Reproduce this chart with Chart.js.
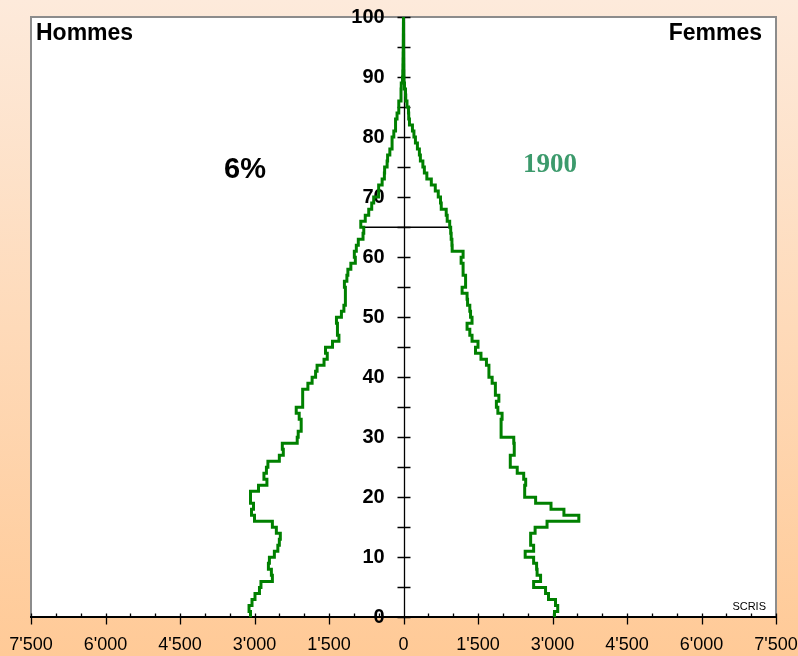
<!DOCTYPE html>
<html lang="fr">
<head>
<meta charset="utf-8">
<title>Pyramide des âges 1900</title>
<script src="https://cdn.jsdelivr.net/npm/chart.js@4.4.1/dist/chart.umd.min.js"></script>
<style>
  html, body { margin: 0; padding: 0; }
  body { width: 798px; height: 656px; background: linear-gradient(to bottom, #fdeadb, #ffca97); overflow: hidden; }
  #wrap { position: relative; width: 798px; height: 656px; }
</style>
</head>
<body>
<div id="wrap"><canvas id="pyramid"></canvas></div>
<script>
// ages 0 to 99, one value per year of age
const ages = Array.from({ length: 100 }, (_, i) => i);

// hommes (drawn on the left)
const hommes = [
    3080, 3110, 3050, 2990, 2900, 2870, 2640, 2660, 2720, 2700,
    2600, 2530, 2500, 2480, 2560, 2640, 3000, 3060, 3020, 3080,
    3080, 2920, 2750, 2810, 2760, 2730, 2500, 2420, 2440, 2140,
    2120, 2060, 2060, 2100, 2160, 2030, 2030, 2030, 1925, 1840,
    1770, 1740, 1600, 1535, 1570, 1430, 1300, 1330, 1330, 1350,
    1250, 1200, 1170, 1170, 1170, 1190, 1140, 1120, 1060, 970,
    990, 950, 910, 815, 800, 860, 770, 700, 640, 600,
    500, 500, 430, 385, 380, 330, 320, 275, 230, 230,
    195, 160, 160, 130, 95, 95, 50, 50, 45, 20,
    15, 12, 10, 8, 6, 5, 4, 3, 2, 1,
];

// femmes (drawn on the right)
const femmes = [
    3040, 3105, 3060, 2920, 2860, 2620, 2760, 2690, 2680, 2620,
    2450, 2620, 2560, 2560, 2650, 2890, 3530, 3230, 2970, 2660,
    2440, 2440, 2460, 2420, 2290, 2150, 2150, 2230, 2230, 2220,
    1965, 1965, 1965, 1985, 1900, 1870, 1920, 1850, 1850, 1785,
    1720, 1720, 1670, 1560, 1450, 1500, 1380, 1335, 1280, 1380,
    1350, 1335, 1290, 1280, 1180, 1250, 1250, 1200, 1200, 1160,
    1200, 980, 975, 960, 950, 930, 880, 860, 760, 745,
    700, 640, 560, 470, 420, 390, 340, 320, 280, 240,
    210, 180, 120, 105, 100, 70, 45, 40, 20, 10,
    8, 6, 5, 4, 3, 2, 2, 1, 1, 0,
];

const retraite = 65;
const xTicks = [-7500, -6000, -4500, -3000, -1500, 0, 1500, 3000, 4500, 6000, 7500];
const yTicks = [0, 10, 20, 30, 40, 50, 60, 70, 80, 90, 100];

function fmt(v) {
    const n = Math.abs(v);
    if (n < 1000) return String(n);
    return Math.floor(n / 1000) + "'" + String(n % 1000).padStart(3, "0");
}

function steps(values, sign) {
    const pts = ages.map((a, i) => ({ x: sign * values[i], y: a }));
    pts.push({ x: sign * values[values.length - 1], y: ages.length });
    return pts;
}

// white plot area, grey frame, age axis line, tick marks and texts
const decor = {
    id: "decor",
    beforeDraw(chart) {
        const { ctx, chartArea: a } = chart;
        ctx.save();
        ctx.fillStyle = "#ffffff";
        ctx.fillRect(a.left, a.top, a.right - a.left, a.bottom - a.top);
        ctx.strokeStyle = "#8c8c8c";
        ctx.lineWidth = 2;
        ctx.beginPath();
        ctx.moveTo(a.left, a.bottom);
        ctx.lineTo(a.left, a.top);
        ctx.lineTo(a.right, a.top);
        ctx.lineTo(a.right, a.bottom);
        ctx.stroke();
        ctx.restore();
    },
    beforeDatasetsDraw(chart) {
        const { ctx, chartArea: a, scales } = chart;
        const x = scales.x, y = scales.y;
        const x0 = Math.round(x.getPixelForValue(0)) + 0.5;
        ctx.save();
        ctx.strokeStyle = "#000";
        ctx.lineWidth = 1.3;
        ctx.beginPath();
        ctx.moveTo(x0, a.top);
        ctx.lineTo(x0, a.bottom);
        for (let v = -7500; v <= 7500; v += 500) {
            const px = Math.round(x.getPixelForValue(v)) + 0.5;
            const major = v % 1500 === 0;
            ctx.moveTo(px, a.bottom - 4);
            ctx.lineTo(px, a.bottom + (major ? 7 : 0));
        }
        for (let v = 0; v <= 100; v += 5) {
            const py = Math.round(y.getPixelForValue(v)) + 0.5;
            ctx.moveTo(x0 - 7, py);
            ctx.lineTo(x0 + 6, py);
        }
        ctx.stroke();
        ctx.restore();
    },
    afterDraw(chart) {
        const { ctx } = chart;
        ctx.save();
        ctx.fillStyle = "#000";
        ctx.font = "bold 23px 'Liberation Sans', Arial, sans-serif";
        ctx.textBaseline = "alphabetic";
        ctx.textAlign = "left";
        ctx.fillText("Hommes", 36, 40);
        ctx.textAlign = "right";
        ctx.fillText("Femmes", 762, 40);
        ctx.textAlign = "left";
        ctx.font = "bold 29px 'Liberation Sans', Arial, sans-serif";
        ctx.fillText("6%", 224, 178);
        ctx.fillStyle = "#3c9a6c";
        ctx.font = "bold 27px 'Liberation Serif', 'Times New Roman', serif";
        ctx.fillText("1900", 523, 172);
        ctx.fillStyle = "#000";
        ctx.font = "11px 'Liberation Sans', Arial, sans-serif";
        ctx.textAlign = "right";
        ctx.fillText("SCRIS", 766, 610);
        ctx.restore();
    },
};

new Chart(document.getElementById("pyramid"), {
    type: "scatter",
    data: {
        datasets: [
            {
                label: "Hommes",
                data: steps(hommes, -1),
                showLine: true,
                stepped: "after",
                borderColor: "#008000",
                borderWidth: 3,
                pointRadius: 0,
            },
            {
                label: "Femmes",
                data: steps(femmes, 1),
                showLine: true,
                stepped: "after",
                borderColor: "#008000",
                borderWidth: 3,
                pointRadius: 0,
            },
            {
                label: "Retraite",
                data: [
                    { x: -hommes[retraite], y: retraite },
                    { x: femmes[retraite], y: retraite },
                ],
                showLine: true,
                borderColor: "#000",
                borderWidth: 1.5,
                pointRadius: 0,
            },
        ],
    },
    options: {
        responsive: true,
        maintainAspectRatio: false,
        animation: false,
        layout: { padding: { left: 31, right: 22, top: 17, bottom: 0 } },
        plugins: { legend: { display: false }, tooltip: { enabled: false } },
        scales: {
            x: {
                type: "linear",
                position: "bottom",
                min: -7500,
                max: 7500,
                afterBuildTicks: (s) => { s.ticks = xTicks.map((v) => ({ value: v })); },
                grid: { display: true, drawOnChartArea: false, drawTicks: true, tickLength: 17, tickColor: "rgba(0,0,0,0)" },
                border: { display: true, color: "#000", width: 2 },
                ticks: {
                    padding: 0,
                    autoSkip: false,
                    maxRotation: 0,
                    color: "#000",
                    font: { family: "'Liberation Sans', Arial, sans-serif", size: 18 },
                    callback: (v) => fmt(v),
                },
            },
            y: {
                type: "linear",
                // labels sit a little left of the age axis (x = 0)
                position: { x: -380 },
                min: 0,
                max: 100,
                afterBuildTicks: (s) => { s.ticks = yTicks.map((v) => ({ value: v })); },
                grid: { display: false, drawTicks: false },
                border: { display: false },
                ticks: {
                    padding: 0,
                    autoSkip: false,
                    color: "#000",
                    font: { family: "'Liberation Sans', Arial, sans-serif", size: 20, weight: "bold" },
                },
            },
        },
    },
    plugins: [decor],
});
</script>
</body>
</html>
